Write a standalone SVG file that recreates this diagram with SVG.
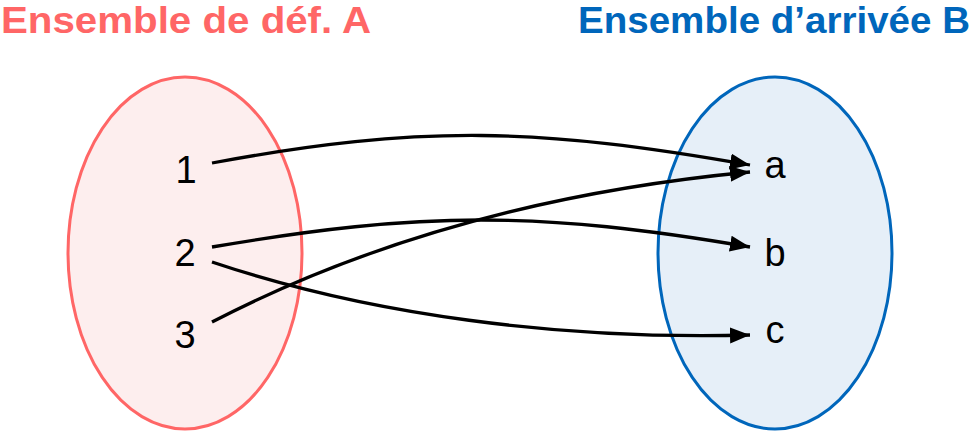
<svg xmlns="http://www.w3.org/2000/svg" width="974" height="432" viewBox="0 0 974 432">
<defs>
<style>
.title{font-family:"Liberation Sans",Arial,sans-serif;font-weight:bold;font-size:36px}
.lbl{font-family:"Liberation Sans",Arial,sans-serif;font-size:38px;fill:#000;text-anchor:middle}
.edge{fill:none;stroke:#000;stroke-width:3.3}
</style>
<marker id="arr" viewBox="0 0 20 16" refX="20" refY="8" markerWidth="20" markerHeight="16" markerUnits="userSpaceOnUse" orient="auto">
<path d="M0,0 L20,8 L0,16 Z" fill="#000"/>
</marker>
</defs>
<rect width="974" height="432" fill="#fff"/>
<g id="setA">
<ellipse cx="185" cy="253" rx="117" ry="176" fill="#FDEEEE" stroke="#FF6666" stroke-width="3"/>
<text class="title" x="1" y="33" fill="#FF6666" textLength="370" lengthAdjust="spacingAndGlyphs">Ensemble de déf. A</text>
</g>
<g id="setB">
<ellipse cx="775" cy="253" rx="117" ry="176" fill="#E6EFF8" stroke="#0066BB" stroke-width="3"/>
<text class="title" x="578" y="33" fill="#0066BB" textLength="392" lengthAdjust="spacingAndGlyphs">Ensemble d’arrivée B</text>
</g>
<g id="n1"><text class="lbl" x="186" y="183">1</text></g>
<g id="n2"><text class="lbl" x="185" y="266">2</text></g>
<g id="n3"><text class="lbl" x="185" y="348">3</text></g>
<g id="na"><text class="lbl" x="775" y="178">a</text></g>
<g id="nb"><text class="lbl" x="775" y="266">b</text></g>
<g id="nc"><text class="lbl" x="775" y="343">c</text></g>
<g id="connectors">
<path class="edge" marker-end="url(#arr)" d="M212,163 C422,124 540,128 750,165"/>
<path class="edge" marker-end="url(#arr)" d="M212,247 C422,211 540,211 750,247"/>
<path class="edge" marker-end="url(#arr)" d="M212,262 C370,315 560,340 750,335"/>
<path class="edge" marker-end="url(#arr)" d="M212,322 C380,235 560,190 750,172"/>
</g>
</svg>
